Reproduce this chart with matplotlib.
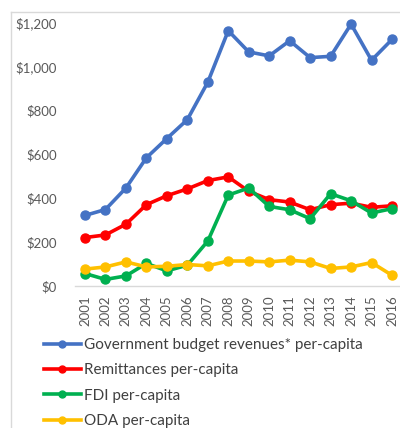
import matplotlib

matplotlib.use("Agg")
import matplotlib.pyplot as plt
from matplotlib.lines import Line2D
from matplotlib.ticker import FuncFormatter

years = [str(y) for y in range(2001, 2017)]
gov_revenue = [322, 349, 447, 585, 673, 759, 930, 1165, 1068, 1050, 1119, 1042, 1048, 1195, 1030, 1125]
remittances = [221, 233, 282, 371, 412, 443, 481, 498, 432, 394, 383, 348, 371, 378, 359, 366]
fdi = [57, 30, 46, 103, 69, 95, 205, 415, 447, 363, 348, 307, 421, 389, 333, 353]
oda = [77, 87, 110, 87, 90, 98, 92, 114, 114, 110, 118, 110, 80, 87, 107, 49]

series = [
    ("Government budget revenues* per-capita", gov_revenue, "#4472C4"),
    ("Remittances per-capita", remittances, "#FF0000"),
    ("FDI per-capita", fdi, "#00B050"),
    ("ODA per-capita", oda, "#FFC000"),
]

plt.rcParams["font.family"] = ["Lato", "DejaVu Sans"]

fig = plt.figure(figsize=(4.0, 4.28), dpi=100)
W, H = 400, 428
ax = fig.add_axes([74.75 / W, (H - 286) / H, 327.5 / W, 263 / H])

x = range(len(years))
for label, vals, color in series:
    ax.plot(x, vals, color=color, linewidth=2.6, marker="o", markersize=6.5,
            solid_capstyle="round", label=label, clip_on=False)

ax.set_xlim(-0.5, len(years) - 0.5)
ax.set_ylim(0, 1200)
ax.set_yticks(range(0, 1201, 200))
ax.yaxis.set_major_formatter(FuncFormatter(lambda v, _: f"${v:,.0f}"))
ax.set_xticks(list(x))
ax.set_xticklabels(years, rotation=90, va="top", ha="center")

for side in ["top", "right", "left"]:
    ax.spines[side].set_visible(False)
ax.spines["bottom"].set_color("#d9d9d9")
ax.spines["bottom"].set_linewidth(1.0)
ax.spines["bottom"].set_zorder(0)
ax.tick_params(axis="both", length=0, labelsize=9.5, colors="#595959")
ax.tick_params(axis="y", pad=12.8)
ax.tick_params(axis="x", pad=6.5)

handles = [
    Line2D([], [], color=c, linewidth=2.6, marker="o", markersize=5)
    for _, _, c in series
]
fig.legend(handles, [s[0] for s in series], loc="upper left",
           bbox_to_anchor=(44 / W, (H - 338) / H), frameon=False,
           fontsize=11, labelcolor="#404040", handlelength=2.4,
           handletextpad=0.2, labelspacing=0.74, borderpad=0, borderaxespad=0)

# outer chart frame (top and left edges only, rest is cut off)
fig.add_artist(Line2D([10.5 / W, 10.5 / W], [0, (H - 12) / H], color="#d9d9d9", linewidth=1.0))
fig.add_artist(Line2D([10.5 / W, 1.0], [(H - 12) / H, (H - 12) / H], color="#d9d9d9", linewidth=1.0))

fig.savefig("out.png", dpi=100)
